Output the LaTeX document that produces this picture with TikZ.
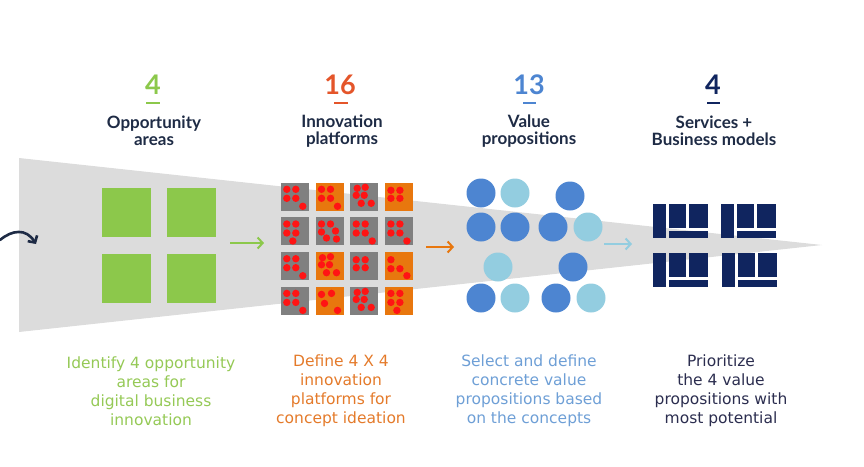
\documentclass[tikz,border=0pt]{standalone}
\usepackage{fontspec}
\setmainfont{Liberation Sans}
\newfontfamily\headfont{Lato}
\newfontfamily\notefont{DejaVu Sans}
\usetikzlibrary{arrows.meta}

\definecolor{funnelgray}{HTML}{DCDCDC}
\definecolor{headnavy}{HTML}{1E2B45}
\definecolor{oppgreen}{HTML}{8CC84B}
\definecolor{platgray}{HTML}{808080}
\definecolor{platorange}{HTML}{E8770E}
\definecolor{countred}{HTML}{E4552A}
\definecolor{dotred}{HTML}{FF1414}
\definecolor{propdark}{HTML}{4D85D1}
\definecolor{proplight}{HTML}{93CDE0}
\definecolor{modelnavy}{HTML}{10255F}
\definecolor{notegreen}{HTML}{95C956}
\definecolor{noteorange}{HTML}{E47A2A}
\definecolor{noteblue}{HTML}{6E9FD6}
\definecolor{notedark}{HTML}{2B2D4F}

\def\patA{6/7,15/7,6/16,15/16,22/24}
\def\patB{6/7,15/7,6/16,15/16,12/24}
\def\patC{6/8,15/8,6/16,15/16}
\def\patD{7/6,15/5,6/13,14/13,11/21,21/21}
\def\patE{6/7,15/7,6/15,20/14,11/21,21/22}
\def\patF{6/8,6/17,15/17,22/24}
\def\patG{6/8,16/7,9/17,22/24}

\newcommand{\modelicon}[2]{%
  \fill[modelnavy] (#1,#2) rectangle ++(13.3,34.3);
  \fill[modelnavy] (#1+16,#2) rectangle ++(17.3,24.3);
  \fill[modelnavy] (#1+36,#2) rectangle ++(18.7,24.3);
  \fill[modelnavy] (#1+16,#2+26.7) rectangle ++(38.7,7.6);}

\begin{document}
\begin{tikzpicture}[x=1pt,y=-1pt,
  count/.style={font=\headfont\bfseries\fontsize{27}{27}\selectfont},
  head/.style={font=\headfont\bfseries\fontsize{17}{17}\selectfont,text=headnavy,align=center},
  note/.style={font=\notefont\fontsize{15.5}{19}\selectfont,align=center},
  area/.style={fill=oppgreen,minimum size=49pt,inner sep=0pt},
  platform/.style={minimum size=28pt,inner sep=0pt},
  prop/.style={circle,minimum size=29pt,inner sep=0pt},
  flow/.style={line width=2pt,-{Straight Barb[length=5pt,width=11pt]}}]
\useasboundingbox (0,0) rectangle (864,466);

\fill[funnelgray] (19,158) -- (822,245) -- (19,332) -- cycle;

\node[count,text=oppgreen] (n1) at (153,85) {4};
\node[count,text=countred] (n2) at (340,85) {16};
\node[count,text=propdark] (n3) at (529,85) {13};
\node[count,text=modelnavy] (n4) at (713,85) {4};
\fill[oppgreen] (146,102) rectangle (160,104);
\fill[countred] (334,102) rectangle (348,104);
\fill[propdark] (523,102) rectangle (536,104);
\fill[modelnavy] (707,102) rectangle (720,104);

\node[head] (h1) at (154,131) {Opportunity\\areas};
\node[head] (h2) at (342,131) {Innovation\\platforms};
\node[head] (h3) at (529,131) {Value\\propositions};
\node[head] (h4) at (714,131) {Services +\\Business models};

\coordinate (in) at (0,240);
\coordinate (inend) at (36,244);
\draw[flow,headnavy,line width=2.6pt,line cap=round] (in) .. controls (12,230) and (26,228) .. (inend);

\node[area] (a1) at (126.5,212.5) {};
\node[area] (a2) at (191,212.5) {};
\node[area] (a3) at (126.5,278.5) {};
\node[area] (a4) at (191,278.5) {};

\coordinate (g1) at (230,243);
\coordinate (g2) at (264,243);
\draw[flow,oppgreen] (g1) -- (g2);

\foreach \r/\c/\fc/\p in {1/1/platgray/A,1/2/platorange/A,1/3/platgray/D,1/4/platorange/C,
  2/1/platgray/B,2/2/platgray/E,2/3/platgray/A,2/4/platgray/A,
  3/1/platgray/A,3/2/platorange/D,3/3/platgray/C,3/4/platorange/F,
  4/1/platgray/A,4/2/platorange/G,4/3/platgray/D,4/4/platorange/B}{
  \node[platform,fill=\fc] (p\r\c) at ({295+34.7*(\c-1)},{196.5+34.7*(\r-1)}) {};
  \edef\plist{\csname pat\p\endcsname}
  \foreach \u/\v in \plist
    \fill[dotred] ([xshift=\u pt,yshift=-\v pt]p\r\c.north west) circle (3.7pt);
}

\coordinate (o1) at (426,247);
\coordinate (o2) at (454,247);
\draw[flow,platorange] (o1) -- (o2);

\foreach \i/\x/\y/\fc in {1/481/193/propdark,2/515/193/proplight,3/570/196/propdark,
  4/481/227/propdark,5/515/227/propdark,6/553/227/propdark,7/588/227/proplight,
  8/498/267/proplight,9/573/267/propdark,
  10/481/298/propdark,11/515/298/proplight,12/556/298/propdark,13/591/298/proplight}
  \node[prop,fill=\fc] (v\i) at (\x,\y) {};

\coordinate (b1) at (604,244);
\coordinate (b2) at (632,244);
\draw[flow,proplight] (b1) -- (b2);

\modelicon{653}{204}
\modelicon{721}{204}
\modelicon{653}{253}
\modelicon{722}{253}

\node[note,text=notegreen] (t1) at (151,391) {Identify 4 opportunity\\areas for\\digital business\\innovation};
\node[note,text=noteorange] (t2) at (341,391) {Define 4 X 4\\innovation\\platforms for\\concept ideation};
\node[note,text=noteblue] (t3) at (529,391) {Select and define\\concrete value\\propositions based\\on the concepts};
\node[note,text=notedark] (t4) at (721,391) {Prioritize\\the 4 value\\propositions with\\most potential};
\end{tikzpicture}
\end{document}
